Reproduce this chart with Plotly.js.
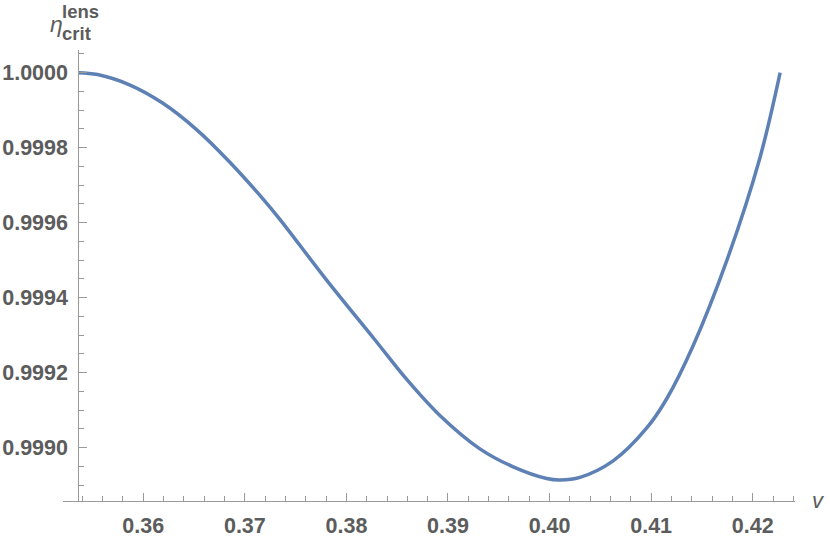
<!DOCTYPE html>
<html>
<head>
<meta charset="utf-8">
<script src="https://cdn.plot.ly/plotly-3.0.1.min.js"></script>
<style>html,body{margin:0;padding:0;background:#fff;}#plot{width:830px;height:540px;}</style>
</head>
<body>
<div id="plot"></div>
<script>
// Data
var v = [0.3536, 0.3555, 0.3587, 0.3619, 0.3653, 0.3685, 0.3718, 0.37345, 0.37805, 0.3828,
         0.3860, 0.3892, 0.39314, 0.39642, 0.39971, 0.40102, 0.40299, 0.40626, 0.40955, 0.41152,
         0.4141, 0.4175, 0.4207, 0.4227];
var eta = [1.000000, 0.999995, 0.999967, 0.999919, 0.999847, 0.999762, 0.999663, 0.999609, 0.999447, 0.999288,
           0.999180, 0.999086, 0.998997, 0.998949, 0.998918, 0.998914, 0.998921, 0.998965, 0.999052, 0.999130,
           0.999270, 0.999503, 0.999772, 1.000000];
var yTickVals = [0.9990, 0.9992, 0.9994, 0.9996, 0.9998, 1.0000];
var yTickText = ["0.9990", "0.9992", "0.9994", "0.9996", "0.9998", "1.0000"];
var xTickVals = [0.36, 0.37, 0.38, 0.39, 0.40, 0.41, 0.42];
var xTickText = ["0.36", "0.37", "0.38", "0.39", "0.40", "0.41", "0.42"];

var axisGray = '#9a9a9a';
var labelGray = '#5c5c5c';
var tickFont = {family: 'Liberation Sans, Arial, sans-serif', size: 21.5, color: labelGray, weight: 'bold'};

var trace = {
  x: v, y: eta, type: 'scatter', mode: 'lines',
  line: {color: '#5E81B5', width: 3.5, shape: 'spline', smoothing: 1},
  hoverinfo: 'skip'
};

var layout = {
  width: 830, height: 540,
  margin: {l: 63, r: 35, t: 50, b: 39},
  paper_bgcolor: '#fff', plot_bgcolor: '#fff',
  showlegend: false,
  xaxis: {
    range: [0.3520965, 0.4241634],
    domain: [0, 1],
    showgrid: false, zeroline: false,
    showline: true, linecolor: axisGray, linewidth: 1,
    ticks: 'inside', ticklen: 8, tickcolor: axisGray, tickwidth: 1,
    tickvals: xTickVals, ticktext: xTickText,
    tickfont: tickFont,
    ticklabelstandoff: 5,
    minor: {dtick: 0.002, tick0: 0.36, ticks: 'inside', ticklen: 5, tickcolor: axisGray, tickwidth: 1, showgrid: false}
  },
  yaxis: {
    range: [0.998858, 1.0000605],
    anchor: 'free', position: 0.0209,
    showgrid: false, zeroline: false,
    showline: true, linecolor: axisGray, linewidth: 1,
    ticks: 'inside', ticklen: 8, tickcolor: axisGray, tickwidth: 1,
    tickvals: yTickVals, ticktext: yTickText,
    tickfont: tickFont,
    ticklabelstandoff: 6,
    minor: {dtick: 0.00005, tick0: 0.9990, ticks: 'inside', ticklen: 5, tickcolor: axisGray, tickwidth: 1, showgrid: false}
  },
  annotations: [
    {text: 'v', xref: 'paper', yref: 'paper', x: 1, y: 0, xshift: 23, yshift: 1, showarrow: false,
     xanchor: 'center', yanchor: 'middle',
     font: {family: 'Liberation Sans, Arial, sans-serif', size: 22, color: labelGray, style: 'italic'}},
    {text: 'η', xref: 'paper', yref: 'paper', x: 0, y: 1, xshift: -7, yshift: 26, showarrow: false,
     xanchor: 'center', yanchor: 'middle',
     font: {family: 'Liberation Sans, Arial, sans-serif', size: 23, color: labelGray, style: 'italic'}},
    {text: 'lens', xref: 'paper', yref: 'paper', x: 0, y: 1, xshift: -2, yshift: 50, showarrow: false,
     xanchor: 'left', yanchor: 'top', borderpad: 0,
     font: {family: 'Liberation Sans, Arial, sans-serif', size: 18.5, color: labelGray, weight: 'bold'}},
    {text: 'crit', xref: 'paper', yref: 'paper', x: 0, y: 1, xshift: -2, yshift: 28, showarrow: false,
     xanchor: 'left', yanchor: 'top', borderpad: 0,
     font: {family: 'Liberation Sans, Arial, sans-serif', size: 18.5, color: labelGray, weight: 'bold'}}
  ]
};

Plotly.newPlot('plot', [trace], layout, {staticPlot: true, displayModeBar: false});
</script>
</body>
</html>
